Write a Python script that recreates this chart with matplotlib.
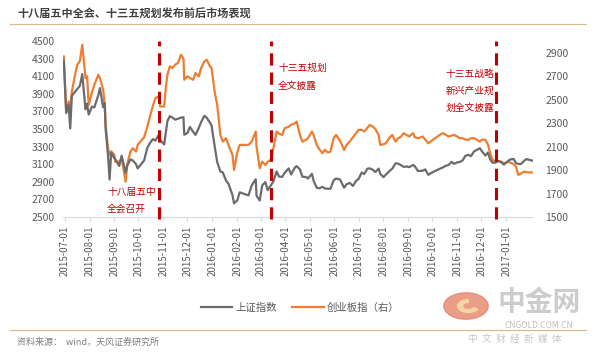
import matplotlib
matplotlib.use('Agg')
import matplotlib.pyplot as plt
import matplotlib.dates as mdates
import numpy as np
import pandas as pd
from matplotlib.patches import Circle, Wedge

plt.rcParams['font.family'] = ['Noto Sans CJK SC', 'DejaVu Sans']

# 数据
dates = ['2015-06-30', '2015-07-03', '2015-07-06', '2015-07-08', '2015-07-10', '2015-07-14', '2015-07-17',
         '2015-07-20', '2015-07-23', '2015-07-27', '2015-07-29', '2015-07-31', '2015-08-04', '2015-08-07',
         '2015-08-12', '2015-08-14', '2015-08-18', '2015-08-20', '2015-08-21', '2015-08-24', '2015-08-26',
         '2015-08-28', '2015-09-01', '2015-09-02', '2015-09-07', '2015-09-10', '2015-09-15', '2015-09-17',
         '2015-09-21', '2015-09-24', '2015-09-28', '2015-09-30', '2015-10-08', '2015-10-12', '2015-10-15',
         '2015-10-19', '2015-10-22', '2015-10-26', '2015-10-28', '2015-11-02', '2015-11-04', '2015-11-06',
         '2015-11-09', '2015-11-12', '2015-11-16', '2015-11-19', '2015-11-23', '2015-11-26', '2015-11-27',
         '2015-12-01', '2015-12-04', '2015-12-08', '2015-12-11', '2015-12-15', '2015-12-18', '2015-12-22',
         '2015-12-25', '2015-12-29', '2015-12-31', '2016-01-04', '2016-01-07', '2016-01-11', '2016-01-14',
         '2016-01-18', '2016-01-21', '2016-01-26', '2016-01-28', '2016-02-01', '2016-02-04', '2016-02-15',
         '2016-02-19', '2016-02-24', '2016-02-25', '2016-02-29', '2016-03-03', '2016-03-07', '2016-03-10',
         '2016-03-14', '2016-03-17', '2016-03-21', '2016-03-24', '2016-03-28', '2016-03-31', '2016-04-05',
         '2016-04-08', '2016-04-13', '2016-04-15', '2016-04-19', '2016-04-22', '2016-04-27', '2016-04-29',
         '2016-05-04', '2016-05-06', '2016-05-10', '2016-05-13', '2016-05-17', '2016-05-20', '2016-05-24',
         '2016-05-27', '2016-05-31', '2016-06-03', '2016-06-08', '2016-06-13', '2016-06-16', '2016-06-20',
         '2016-06-24', '2016-06-28', '2016-07-01', '2016-07-05', '2016-07-08', '2016-07-12', '2016-07-15',
         '2016-07-19', '2016-07-22', '2016-07-26', '2016-07-28', '2016-08-01', '2016-08-04', '2016-08-09',
         '2016-08-12', '2016-08-16', '2016-08-19', '2016-08-23', '2016-08-26', '2016-08-30', '2016-09-02',
         '2016-09-07', '2016-09-09', '2016-09-13', '2016-09-19', '2016-09-22', '2016-09-26', '2016-09-30',
         '2016-10-10', '2016-10-14', '2016-10-18', '2016-10-21', '2016-10-25', '2016-10-28', '2016-11-01',
         '2016-11-04', '2016-11-08', '2016-11-11', '2016-11-15', '2016-11-18', '2016-11-22', '2016-11-25',
         '2016-11-29', '2016-12-02', '2016-12-06', '2016-12-09', '2016-12-12', '2016-12-15', '2016-12-19',
         '2016-12-22', '2016-12-26', '2016-12-29', '2017-01-03', '2017-01-06', '2017-01-10', '2017-01-13',
         '2017-01-16', '2017-01-19', '2017-01-23', '2017-01-26', '2017-02-03']

sh_index = [4277, 3687, 3776, 3507, 3877, 3924, 3957, 3992, 4124, 3725, 3789, 3664, 3756, 3745,
            3887, 3965, 3748, 3794, 3508, 3210, 2927, 3232, 3166, 3160, 3080, 3197, 3005, 3086,
            3156, 3143, 3100, 3053, 3143, 3287, 3338, 3386, 3369, 3430, 3375, 3325, 3459, 3590,
            3646, 3632, 3606, 3617, 3630, 3635, 3436, 3456, 3524, 3470, 3434, 3511, 3578, 3651,
            3628, 3573, 3539, 3296, 3125, 3017, 3007, 2914, 2880, 2750, 2656, 2689, 2781, 2746,
            2860, 2929, 2742, 2688, 2859, 2897, 2805, 2864, 2904, 3018, 2960, 2957, 3003, 3053,
            2985, 3066, 3078, 3042, 2959, 2954, 2938, 2991, 2913, 2832, 2827, 2843, 2825, 2821,
            2822, 2917, 2938, 2927, 2833, 2872, 2888, 2854, 2912, 2932, 3007, 2988, 3049, 3054,
            3036, 3012, 3050, 2994, 2953, 2982, 3026, 3050, 3110, 3108, 3089, 3070, 3075, 3067,
            3091, 3078, 3023, 3026, 3042, 2980, 3004, 3048, 3064, 3084, 3091, 3128, 3104, 3122,
            3125, 3148, 3196, 3207, 3192, 3248, 3261, 3282, 3243, 3199, 3233, 3153, 3117, 3119,
            3139, 3122, 3096, 3136, 3154, 3161, 3113, 3104, 3101, 3137, 3159, 3140]

cyb_index = [2869, 2386, 2485, 2420, 2570, 2713, 2800, 2830, 2969, 2684, 2700, 2456, 2560, 2627,
             2713, 2684, 2585, 2450, 2300, 2087, 2030, 2060, 2029, 1972, 1972, 2001, 1801, 1950,
             2060, 2087, 2058, 2115, 2180, 2270, 2350, 2450, 2514, 2527, 2442, 2442, 2600, 2713,
             2784, 2770, 2800, 2813, 2883, 2850, 2670, 2700, 2684, 2670, 2727, 2698, 2770, 2826,
             2841, 2784, 2770, 2560, 2456, 2200, 2143, 2172, 2115, 2030, 1901, 2050, 2115, 2115,
             2143, 2229, 2100, 1916, 1972, 1944, 1972, 1990, 2087, 2229, 2210, 2200, 2257, 2270,
             2286, 2300, 2314, 2200, 2143, 2160, 2172, 2229, 2200, 2115, 2080, 2044, 2072, 2050,
             2058, 2172, 2200, 2150, 2072, 2115, 2143, 2180, 2215, 2243, 2243, 2230, 2260, 2286,
             2270, 2250, 2200, 2115, 2120, 2129, 2180, 2200, 2143, 2170, 2186, 2215, 2200, 2186,
             2215, 2180, 2172, 2186, 2160, 2129, 2150, 2200, 2215, 2200, 2186, 2195, 2200, 2186,
             2172, 2172, 2160, 2158, 2172, 2172, 2160, 2143, 2160, 2158, 2120, 2044, 1987, 1972,
             1975, 1972, 1958, 1970, 1965, 1950, 1930, 1859, 1870, 1887, 1882, 1880]

event_dates = ['2015-10-26', '2016-03-14', '2016-12-19']
month_ticks = pd.date_range('2015-07-01', '2017-01-01', freq='MS')
left_ticks = list(range(2500, 4501, 200))
right_ticks = list(range(1500, 3000, 200))

GRAY = '#6B6B6B'
ORANGE = '#ED7D31'
RED = '#C00000'
TXT = '#595959'
TAN = '#D9BC8E'

x = pd.to_datetime(dates)

fig = plt.figure(figsize=(6.0, 3.57), dpi=100)
ax = fig.add_axes([0.105, 0.392, 0.783, 0.493])
ax2 = ax.twinx()

l1, = ax.plot(x, sh_index, color=GRAY, lw=1.6, label='上证指数', zorder=3)
l2, = ax2.plot(x, cyb_index, color=ORANGE, lw=1.6, label='创业板指（右）', zorder=3)

for d in event_dates:
    ax.axvline(pd.Timestamp(d), color=RED, lw=2.2, linestyle=(0, (4, 2.3)), zorder=5, clip_on=False,
               ymin=-0.01, ymax=1.0)

ax.set_xlim(pd.Timestamp('2015-06-29'), pd.Timestamp('2017-02-03'))
ax.set_ylim(2500, 4500)
ax2.set_ylim(1500, 3000)
ax.set_yticks(left_ticks)
ax2.set_yticks(right_ticks)
ax.set_xticks(month_ticks)
ax.xaxis.set_major_formatter(mdates.DateFormatter('%Y-%m-%d'))

for a in (ax, ax2):
    for s in a.spines.values():
        s.set_visible(False)
ax.spines['bottom'].set_visible(True)
ax.spines['bottom'].set_color('#D9D9D9')
ax.tick_params(axis='x', rotation=90, labelsize=7, colors=TXT, length=3, color='#D9D9D9', pad=3)
ax.tick_params(axis='y', labelsize=7.5, colors=TXT, length=0, pad=6)
ax2.tick_params(axis='y', labelsize=7.5, colors=TXT, length=0, pad=9)
ax2.set_zorder(ax.get_zorder() - 1)
ax.patch.set_visible(False)

# 事件标注
fs = 7
fig.text(107 / 600, 1 - 192 / 357, '十八届五中', color=RED, fontsize=fs, va='center')
fig.text(107 / 600, 1 - 209 / 357, '全会召开', color=RED, fontsize=fs, va='center')
fig.text(278 / 600, 1 - 68 / 357, '十三五规划', color=RED, fontsize=fs, va='center')
fig.text(278 / 600, 1 - 86 / 357, '全文披露', color=RED, fontsize=fs, va='center')
fig.text(494 / 600, 1 - 74 / 357, '十三五战略', color=RED, fontsize=fs, va='center', ha='right')
fig.text(494 / 600, 1 - 91 / 357, '新兴产业规', color=RED, fontsize=fs, va='center', ha='right')
fig.text(494 / 600, 1 - 108 / 357, '划全文披露', color=RED, fontsize=fs, va='center', ha='right')

# 标题与线
fig.text(17 / 600, 1 - 14 / 357, '十八届五中全会、十三五规划发布前后市场表现', fontsize=8, fontweight='bold',
         color='#3F3F3F', va='center')
fig.add_artist(plt.Line2D([10 / 600, 586 / 600], [1 - 24 / 357, 1 - 24 / 357], color=TAN, lw=0.9))
fig.add_artist(plt.Line2D([10 / 600, 586 / 600], [1 - 330 / 357, 1 - 330 / 357], color=TAN, lw=0.9))

# 图例
fig.legend(handles=[l1, l2], loc='center', bbox_to_anchor=(300 / 600, 1 - 308 / 357), ncol=2, frameon=False,
           fontsize=7.5, labelcolor=TXT, handlelength=3.0, columnspacing=1.5, handletextpad=0.3)

# 资料来源
fig.text(17 / 600, 1 - 342 / 357, '资料来源：  wind，天风证券研究所', fontsize=6.5, color='#7F7F7F', va='center')

# 水印
cx, cy = 466 / 600, 1 - 306 / 357
fig.add_artist(Circle((cx, cy), 0.037, transform=fig.transFigure, color='#E4866A', alpha=0.8, zorder=0))
fig.add_artist(Wedge((cx + 0.004, cy), 0.018, 90, 330, width=0.008, transform=fig.transFigure,
                     color='#F7D9A8', alpha=0.9, zorder=1))
fig.text(539 / 600, 1 - 303 / 357, '中金网', fontsize=20, color='#C4C4C4', ha='center', va='center',
         fontweight='bold', alpha=0.85)
fig.text(539 / 600, 1 - 325 / 357, 'CNGOLD.COM.CN', fontsize=6, color='#BDBDBD', ha='center', va='center')
fig.text(515 / 600, 1 - 339 / 357, '中  文  财  经  新  媒  体', fontsize=7, color='#C8C8C8', ha='center',
         va='center')

plt.savefig('out.png', dpi=100)
plt.close()
